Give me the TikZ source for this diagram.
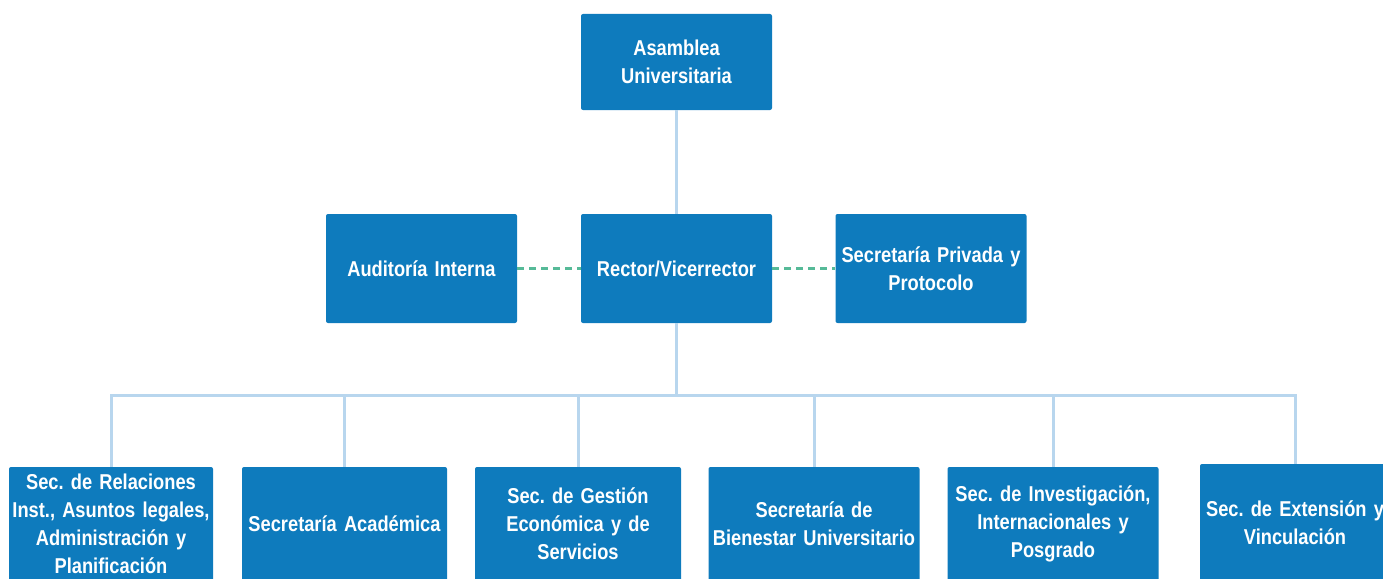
\documentclass[tikz,border=0pt]{standalone}
\usepackage{fontspec}
\setmainfont{Liberation Sans}[FakeStretch=0.85]
\definecolor{boxblue}{RGB}{14,123,189}
\definecolor{linkblue}{RGB}{184,214,238}
\definecolor{dashgreen}{RGB}{86,186,152}
\newcommand{\boxfont}{\fontsize{21.5}{28}\selectfont\bfseries\frenchspacing
  \spaceskip=4.6pt plus 1pt minus 1pt\relax}

\begin{document}
\begin{tikzpicture}[x=1pt, y=1pt,
				box/.style={ rectangle, rounded corners=2pt, fill=boxblue,
						text=white, inner sep=0pt, align=center, font=\boxfont },
				link/.style={ draw=linkblue, line width=3pt },
				aux/.style={ draw=dashgreen, line width=2.6pt, dash pattern=on 7pt off 5pt } ]

			\useasboundingbox (0,0) rectangle (1383,-578);

			\node[box, minimum width=191, minimum height=96, text width=183] (asamblea) at (676.5,-62) {Asamblea\\Universitaria};
			\node[box, minimum width=191, minimum height=109, text width=183] (auditoria) at (421.5,-268.5) {Auditoría Interna};
			\node[box, minimum width=191, minimum height=109, text width=183] (rector) at (676.5,-268.5) {Rector/Vicerrector};
			\node[box, minimum width=191, minimum height=109, text width=185] (privada) at (931,-268.5) {Secretaría Privada y\\Protocolo};

			\node[box, minimum width=204, minimum height=114, text width=200] (relaciones) at (111,-524) {Sec. de Relaciones\\Inst., Asuntos legales,\\Administración y\\Planificación};
			\node[box, minimum width=205, minimum height=114, text width=200] (academica) at (344.5,-524) {Secretaría Académica};
			\node[box, minimum width=206, minimum height=114, text width=200] (gestion) at (578,-524) {Sec. de Gestión\\Económica y de\\Servicios};
			\node[box, minimum width=211, minimum height=114, text width=205] (bienestar) at (814,-524) {Secretaría de\\Bienestar Universitario};
			\node[box, minimum width=211, minimum height=114, text width=205] (investigacion) at (1053,-524) {Sec. de Investigación,\\Internacionales y\\Posgrado};
			\node[box, minimum width=190, minimum height=118, text width=186] (extension) at (1295,-523) {Sec. de Extensión y\\Vinculación};

			\coordinate (bus) at (676.5,-395);

			\draw[link] (asamblea) -- (rector);
			\draw[link] (rector) -- (bus);
			\draw[link] (bus) -| (relaciones);
			\draw[link] (bus) -| (academica);
			\draw[link] (bus) -| (gestion);
			\draw[link] (bus) -| (bienestar);
			\draw[link] (bus) -| (investigacion);
			\draw[link] (bus) -| (extension);

			\draw[aux] (auditoria) -- (rector);
			\draw[aux] (rector) -- (privada);
		\end{tikzpicture}
\end{document}
